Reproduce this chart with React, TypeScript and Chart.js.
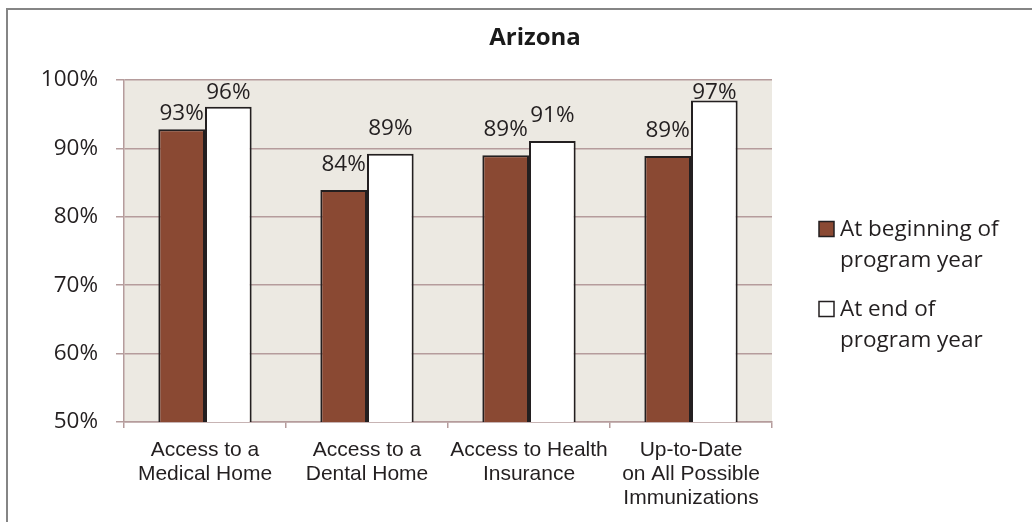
import React, { useEffect, useRef } from "react";
import { Chart, registerables } from "chart.js";

Chart.register(...registerables);

const TITLE = "Arizona";
const categories: string[][] = [
  ["Access to a", "Medical Home"],
  ["Access to a", "Dental Home"],
  ["Access to Health", "Insurance"],
  ["Up-to-Date", "on All Possible", "Immunizations"],
];
const beginValues = [92.8, 83.9, 89.0, 88.9];
const endValues = [96.1, 89.2, 91.1, 97.0];
const seriesNames: string[][] = [
  ["At beginning of", "program year"],
  ["At end of", "program year"],
];
const yMin = 50;
const yMax = 100;
const yStep = 10;

const BROWN = "#8A4933";
const WHITE = "#FFFFFF";
const OUTLINE = "#231F20";
const PLOT_BG = "#ECE9E2";
const GRID = "#B59C9C";
const TEXT = "#231F20";
const CALIBRI_LIKE = "'Open Sans', 'Noto Sans', sans-serif";
const ARIAL_LIKE = "'Liberation Sans', Arial, sans-serif";

// per-label distance (px) from bar top to label baseline
const LABEL_GAP = [
  [9, 19, 19, 19],
  [19, 19, 19, 19],
];

const decorPlugin = {
  id: "decor",
  beforeDraw(chart: any) {
    const { ctx, chartArea } = chart;
    ctx.save();
    ctx.fillStyle = PLOT_BG;
    ctx.fillRect(chartArea.left, chartArea.top, chartArea.right - chartArea.left, chartArea.bottom - chartArea.top);
    ctx.restore();
  },
  afterDatasetsDraw(chart: any) {
    const { ctx, chartArea } = chart;
    ctx.save();
    ctx.font = `22.5px ${CALIBRI_LIKE}`;
    ctx.fillStyle = TEXT;
    ctx.textAlign = "center";
    ctx.textBaseline = "alphabetic";
    chart.data.datasets.forEach((ds: any, di: number) => {
      const meta = chart.getDatasetMeta(di);
      meta.data.forEach((bar: any, i: number) => {
        const v = ds.data[i];
        let y = bar.y - LABEL_GAP[di][i];
        y = Math.max(y, chartArea.top + 19);
        ctx.fillText(Math.round(v) + "%", bar.x, y);
      });
    });
    ctx.restore();
  },
  afterDraw(chart: any) {
    const { ctx, chartArea } = chart;
    ctx.save();
    // title
    ctx.font = `bold 24px ${CALIBRI_LIKE}`;
    ctx.fillStyle = "#1a1a1a";
    ctx.textAlign = "center";
    ctx.textBaseline = "alphabetic";
    ctx.fillText(TITLE, 527, 35);
    // legend
    const fills = [BROWN, WHITE];
    const boxX = chartArea.right + 47;
    const textX = chartArea.right + 68;
    ctx.font = `22.5px ${CALIBRI_LIKE}`;
    ctx.textAlign = "left";
    seriesNames.forEach((lines, i) => {
      const base = 226 + i * 80;
      ctx.fillStyle = fills[i];
      ctx.fillRect(boxX, base - 14.5, 15, 15);
      ctx.strokeStyle = OUTLINE;
      ctx.lineWidth = 1.5;
      ctx.strokeRect(boxX, base - 14.5, 15, 15);
      ctx.fillStyle = TEXT;
      lines.forEach((line, li) => {
        ctx.fillText(line, textX, base + li * 31);
      });
    });
    ctx.restore();
  },
};

export default function App() {
  const ref = useRef<HTMLCanvasElement | null>(null);
  useEffect(() => {
    if (!ref.current) return;
    const chart = new Chart(ref.current, {
      type: "bar",
      data: {
        labels: categories,
        datasets: [
          {
            label: seriesNames[0].join(" "),
            data: beginValues,
            backgroundColor: BROWN,
            borderColor: OUTLINE,
            borderWidth: 2,
            borderSkipped: "bottom",
            categoryPercentage: 0.576,
            barPercentage: 1,
          },
          {
            label: seriesNames[1].join(" "),
            data: endValues,
            backgroundColor: WHITE,
            borderColor: OUTLINE,
            borderWidth: 2,
            borderSkipped: "bottom",
            categoryPercentage: 0.576,
            barPercentage: 1,
          },
        ],
      },
      options: {
        responsive: false,
        animation: false,
        layout: { padding: { left: 0, right: 260, top: 70, bottom: 0 } },
        plugins: {
          legend: { display: false },
          title: { display: false },
          tooltip: { enabled: false },
        },
        scales: {
          x: {
            afterFit: (s: any) => {
              s.height = 100;
            },
            grid: {
              offset: true,
              drawOnChartArea: false,
              drawTicks: true,
              tickLength: 6,
              color: GRID,
              lineWidth: 1.5,
            },
            border: { display: true, color: GRID, width: 1.5 },
            ticks: {
              autoSkip: false,
              maxRotation: 0,
              minRotation: 0,
              padding: 10,
              color: TEXT,
              font: { family: ARIAL_LIKE, size: 21, lineHeight: 1.15 },
            },
          },
          y: {
            min: yMin,
            max: yMax,
            afterFit: (s: any) => {
              s.width = 116;
            },
            grid: {
              color: GRID,
              lineWidth: 1.5,
              tickLength: 8,
              drawTicks: true,
            },
            border: { display: true, color: GRID, width: 1.5 },
            ticks: {
              stepSize: yStep,
              padding: 18,
              color: TEXT,
              font: { family: CALIBRI_LIKE, size: 22.5 },
              callback: (v: any) => v + "%",
            },
          },
        },
      },
      plugins: [decorPlugin],
    });
    return () => chart.destroy();
  }, []);

  return (
    <div
      style={{
        position: "fixed",
        left: 6,
        top: 8,
        width: 1026,
        height: 514,
        borderTop: "2px solid #858585",
        borderLeft: "2px solid #858585",
        background: "#fff",
        overflow: "hidden",
      }}
    >
      <canvas ref={ref} width={1024} height={512} style={{ display: "block" }} />
    </div>
  );
}
